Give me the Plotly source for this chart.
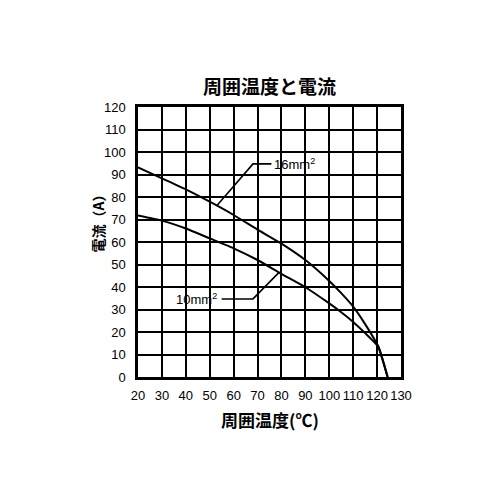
import plotly.graph_objects as go

# Data
temp_16 = [20, 30, 40, 50, 60, 70, 80, 90, 100, 105, 110, 115, 120.5, 124.4]
amp_16 = [93.2, 88.3, 83.4, 77.9, 72.0, 65.5, 59.3, 52.0, 42.7, 37.3, 31.3, 23.5, 13.5, 0]
temp_10 = [20, 30, 40, 50, 60, 70, 80, 90, 100, 105, 110, 115, 120.5, 124.4]
amp_10 = [71.8, 69.5, 66.0, 61.6, 57.2, 52.0, 45.8, 39.9, 32.7, 28.8, 24.5, 19.5, 13.5, 0]

label_16 = "16mm<sup>2</sup>"
label_10 = "10mm<sup>2</sup>"
leader_16_x = [53.2, 68.1, 75.8]
leader_16_y = [76.4, 94.7, 94.7]
leader_10_x = [55.0, 68.1, 78.9]
leader_10_y = [34.7, 34.7, 46.4]

x_ticks = list(range(20, 131, 10))
y_ticks = list(range(0, 121, 10))

title_text = "周囲温度と電流"
x_title = "周囲温度(℃)"
y_title = "電流（A）"

fig = go.Figure()
fig.add_trace(go.Scatter(x=temp_16, y=amp_16, mode="lines",
                         line=dict(color="black", width=2, shape="spline", smoothing=0.4), showlegend=False))
fig.add_trace(go.Scatter(x=temp_10, y=amp_10, mode="lines",
                         line=dict(color="black", width=2, shape="spline", smoothing=0.4), showlegend=False))
fig.add_trace(go.Scatter(x=leader_16_x, y=leader_16_y, mode="lines", line=dict(color="black", width=1.6), showlegend=False))
fig.add_trace(go.Scatter(x=leader_10_x, y=leader_10_y, mode="lines", line=dict(color="black", width=1.6), showlegend=False))

fig.add_annotation(x=76.0, y=94.7, text=label_16, showarrow=False, xanchor="left", yanchor="middle",
                   font=dict(family="Liberation Sans", size=13, color="black"))
fig.add_annotation(x=54.0, y=34.7, text=label_10, showarrow=False, xanchor="right", yanchor="middle",
                   font=dict(family="Liberation Sans", size=13, color="black"))

fig.add_annotation(x=0.5, y=1, xref="paper", yref="paper", yshift=22, text="<b>" + title_text + "</b>",
                   showarrow=False, yanchor="middle", xanchor="center",
                   font=dict(family="Noto Sans CJK JP", size=19, color="black"))
fig.add_annotation(x=0.5, y=0, xref="paper", yref="paper", yshift=-42, text="<b>" + x_title + "</b>",
                   showarrow=False, yanchor="middle", xanchor="center",
                   font=dict(family="Noto Sans CJK JP", size=17, color="black"))
fig.add_annotation(x=0, y=0.58, xref="paper", yref="paper", xshift=-40, text="<b>" + y_title + "</b>",
                   showarrow=False, textangle=-90, xanchor="center", yanchor="middle",
                   font=dict(family="Noto Sans CJK JP", size=14, color="black"))

fig.update_xaxes(range=[20, 130], tickvals=x_ticks, ticktext=[str(v) for v in x_ticks],
                 showgrid=True, gridcolor="black", gridwidth=1.5, zeroline=False,
                 showline=True, linecolor="black", linewidth=2.5, mirror=True,
                 ticks="", ticklabelstandoff=5,
                 tickfont=dict(family="Liberation Sans", size=13, color="black"))
fig.update_yaxes(range=[0, 120], tickvals=y_ticks, ticktext=[str(v) for v in y_ticks],
                 showgrid=True, gridcolor="black", gridwidth=1.5, zeroline=False,
                 showline=True, linecolor="black", linewidth=2.5, mirror=True,
                 ticks="", ticklabelstandoff=7,
                 tickfont=dict(family="Liberation Sans", size=13, color="black"))

fig.update_layout(width=500, height=500, margin=dict(l=138, r=99, t=107, b=123),
                  plot_bgcolor="white", paper_bgcolor="white")

fig.write_html("out.html")
